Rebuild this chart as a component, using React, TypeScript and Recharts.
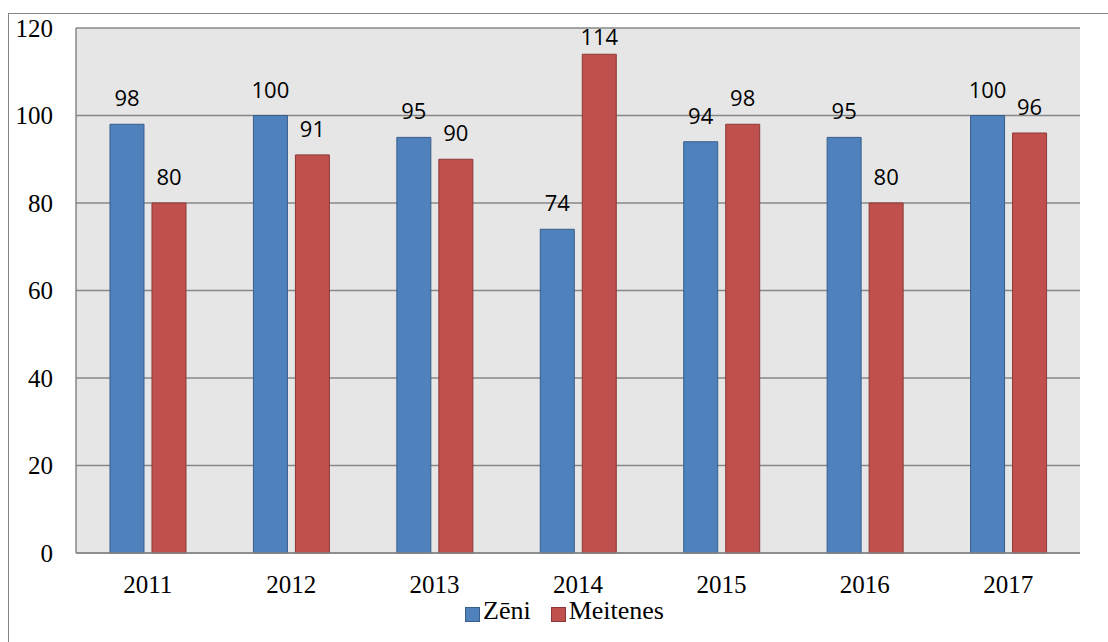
import React from 'react';
import { BarChart, Bar, XAxis, YAxis, CartesianGrid } from 'recharts';

const years = ['2011', '2012', '2013', '2014', '2015', '2016', '2017'];
const zeni = [98, 100, 95, 74, 94, 95, 100];
const meitenes = [80, 91, 90, 114, 98, 80, 96];
const yTicks = [0, 20, 40, 60, 80, 100, 120];

const data = years.map((year, i) => ({ year, zeni: zeni[i], meitenes: meitenes[i] }));

const serif = '"Liberation Serif", "Times New Roman", serif';
const sans = '"Open Sans", "Liberation Sans", sans-serif';

// Excel keeps the label inside the chart, so clamp the top one
const ValueLabel = (props: any) => {
  const { x, y, width, value } = props;
  const cy = Math.max(y - 27, 36);
  return (
    <text
      x={x + width / 2}
      y={cy}
      textAnchor="middle"
      dominantBaseline="central"
      fontFamily={sans}
      fontSize={22}
      fill="#000"
    >
      {value}
    </text>
  );
};

const square = (fill: string, stroke: string) => ({
  display: 'inline-block',
  width: 13,
  height: 13,
  background: fill,
  border: `1px solid ${stroke}`,
  marginRight: 3,
  position: 'relative' as const,
  top: 3,
});

export default function App() {
  return (
    <div style={{ position: 'fixed', left: 0, top: 0, width: 1108, height: 642, overflow: 'hidden', background: '#fff', fontFamily: serif }}>
      <div
        style={{
          position: 'absolute',
          left: 8,
          top: 13,
          width: 1200,
          height: 700,
          border: '1px solid #868686',
        }}
      />
      <div style={{ position: 'absolute', left: 0, top: 0 }}>
        <BarChart
          width={1108}
          height={642}
          data={data}
          margin={{ top: 28, right: 28, left: 16, bottom: 59 }}
          barCategoryGap="23.7%"
          barGap={8}
          style={{ fontFamily: serif }}
        >
          <CartesianGrid vertical={false} fill="#e6e6e6" stroke="#878787" strokeWidth={1.5} />
          <XAxis
            dataKey="year"
            height={30}
            axisLine={{ stroke: '#878787', strokeWidth: 1.5 }}
            tickLine={false}
            tickSize={0}
            tickMargin={22}
            tick={{ fill: '#000', fontSize: 25, fontFamily: serif }}
          />
          <YAxis
            width={60}
            domain={[0, 120]}
            ticks={yTicks}
            axisLine={{ stroke: '#878787', strokeWidth: 1.5 }}
            tickLine={false}
            tickSize={0}
            tickMargin={23}
            tick={{ fill: '#000', fontSize: 25, fontFamily: serif }}
          />
          <Bar
            dataKey="zeni"
            name="Zēni"
            fill="#4f81bd"
            stroke="#385d8a"
            strokeWidth={1}
            label={<ValueLabel />}
            isAnimationActive={false}
          />
          <Bar
            dataKey="meitenes"
            name="Meitenes"
            fill="#c0504d"
            stroke="#8c3836"
            strokeWidth={1}
            label={<ValueLabel />}
            isAnimationActive={false}
          />
        </BarChart>
      </div>
      {/* legend */}
      <div
        style={{
          position: 'absolute',
          left: 465,
          top: 597,
          display: 'flex',
          alignItems: 'center',
          fontFamily: serif,
          fontSize: 26,
          color: '#000',
          lineHeight: '28px',
          whiteSpace: 'nowrap',
        }}
      >
        <span style={square('#4f81bd', '#385d8a')} />
        <span style={{ marginRight: 20 }}>Zēni</span>
        <span style={square('#c0504d', '#8c3836')} />
        <span>Meitenes</span>
      </div>
    </div>
  );
}
